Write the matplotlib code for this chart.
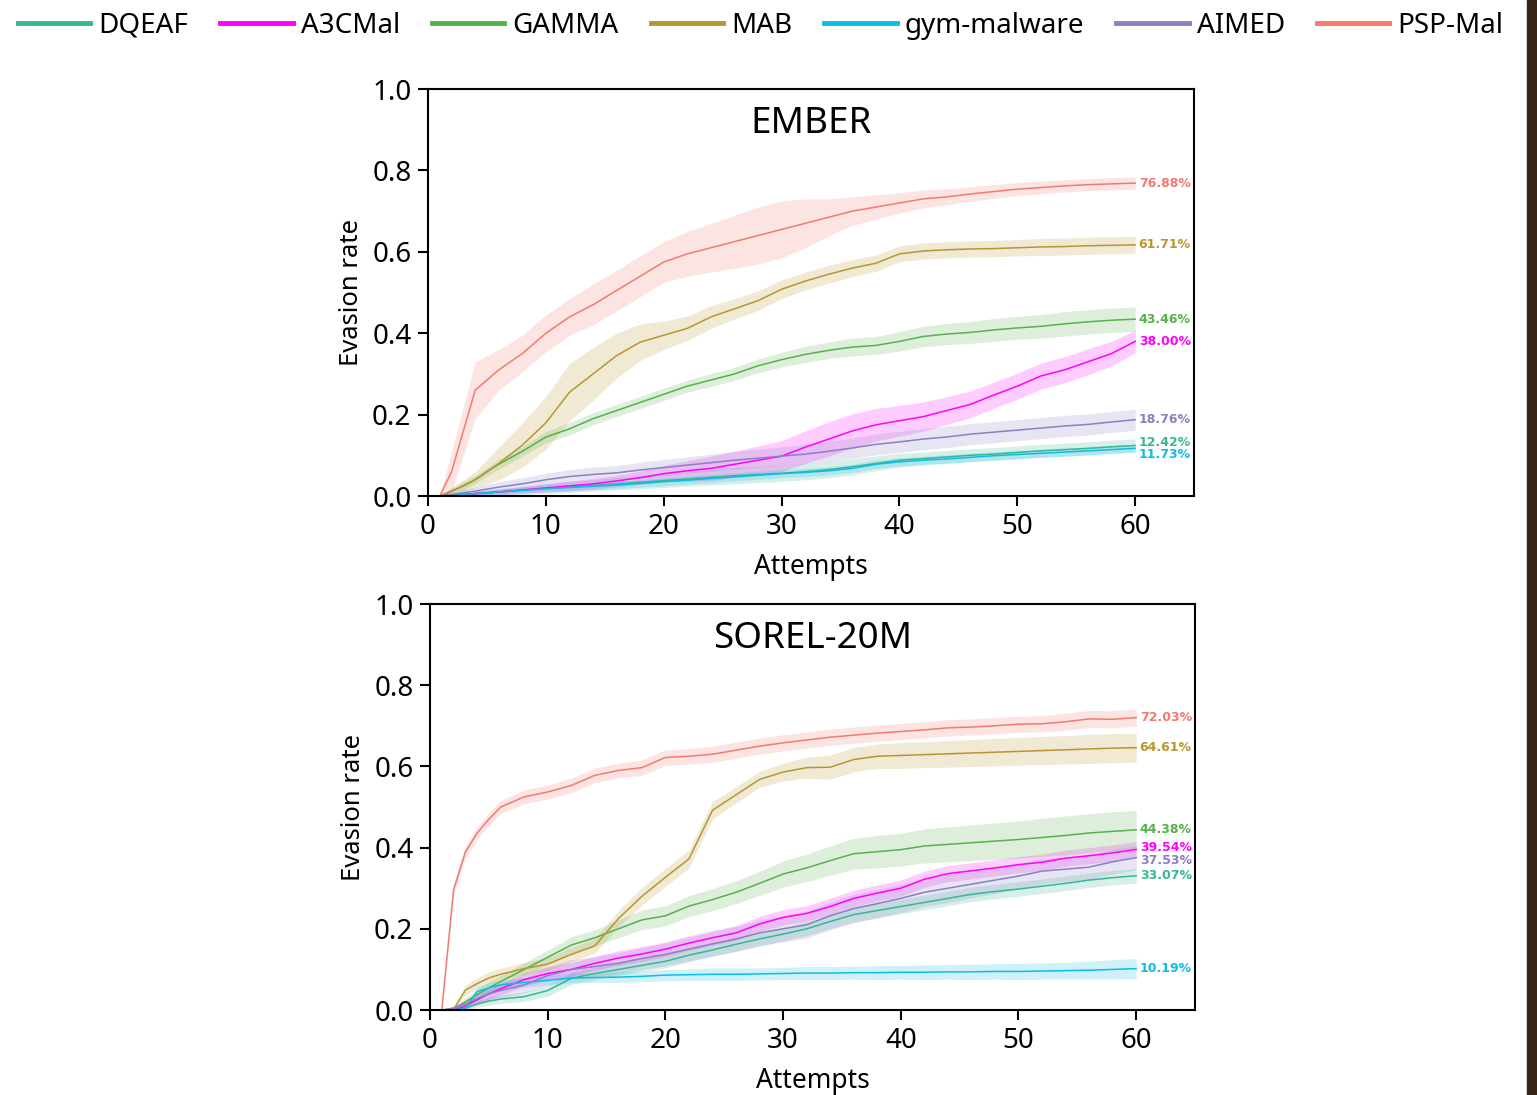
import matplotlib
matplotlib.use('Agg')
import matplotlib.pyplot as plt
from matplotlib.patches import Rectangle
from matplotlib.lines import Line2D
import numpy as np

plt.rcParams['font.family'] = ['Noto Sans', 'DejaVu Sans']

ATT = [1, 2, 3, 4, 5, 6, 8, 10, 12, 14, 16, 18, 20, 22, 24, 26, 28, 30,
       32, 34, 36, 38, 40, 42, 44, 46, 48, 50, 52, 54, 56, 58, 60]

METHODS = ['DQEAF', 'A3CMal', 'GAMMA', 'MAB', 'gym-malware', 'AIMED', 'PSP-Mal']
COLORS = ['#36b795', '#ff00ff', '#55b24a', '#b8962f', '#0dbde6', '#8a80c2', '#f47a6e']

# ---- EMBER ----
EMBER = {
  'DQEAF': [0, 0.002, 0.004, 0.006, 0.008, 0.01, 0.014, 0.018, 0.022, 0.026, 0.03, 0.034, 0.038, 0.042,
            0.046, 0.05, 0.053, 0.056, 0.06, 0.065, 0.072, 0.08, 0.088, 0.092, 0.096, 0.1, 0.103,
            0.107, 0.111, 0.114, 0.117, 0.121, 0.1242],
  'A3CMal': [0, 0.002, 0.004, 0.006, 0.008, 0.01, 0.015, 0.02, 0.025, 0.03, 0.037, 0.045, 0.055, 0.062,
             0.068, 0.078, 0.088, 0.098, 0.12, 0.14, 0.16, 0.175, 0.185, 0.195, 0.21, 0.225, 0.248,
             0.27, 0.295, 0.31, 0.33, 0.35, 0.38],
  'GAMMA': [0, 0.012, 0.025, 0.04, 0.06, 0.078, 0.11, 0.145, 0.165, 0.19, 0.21, 0.23, 0.25, 0.27,
            0.285, 0.30, 0.32, 0.335, 0.348, 0.358, 0.366, 0.37, 0.38, 0.392, 0.398, 0.402, 0.408,
            0.413, 0.417, 0.423, 0.428, 0.432, 0.4346],
  'MAB': [0, 0.012, 0.025, 0.04, 0.06, 0.08, 0.125, 0.18, 0.255, 0.30, 0.345, 0.378, 0.395, 0.412,
          0.44, 0.46, 0.48, 0.508, 0.528, 0.545, 0.56, 0.572, 0.595, 0.602, 0.605, 0.607, 0.608,
          0.61, 0.612, 0.613, 0.615, 0.616, 0.6171],
  'gym-malware': [0, 0.002, 0.004, 0.006, 0.008, 0.01, 0.014, 0.018, 0.021, 0.024, 0.027, 0.031, 0.035,
                  0.039, 0.043, 0.047, 0.051, 0.055, 0.058, 0.062, 0.068, 0.078, 0.084, 0.088, 0.091,
                  0.095, 0.099, 0.102, 0.105, 0.108, 0.111, 0.114, 0.1173],
  'AIMED': [0, 0.004, 0.008, 0.012, 0.017, 0.022, 0.03, 0.04, 0.048, 0.053, 0.057, 0.064, 0.07, 0.076,
            0.082, 0.088, 0.093, 0.098, 0.103, 0.11, 0.118, 0.127, 0.133, 0.14, 0.145, 0.152, 0.157,
            0.162, 0.167, 0.172, 0.176, 0.182, 0.1876],
  'PSP-Mal': [0, 0.06, 0.16, 0.26, 0.285, 0.31, 0.35, 0.40, 0.44, 0.47, 0.505, 0.54, 0.575, 0.595,
              0.61, 0.625, 0.64, 0.655, 0.67, 0.685, 0.70, 0.71, 0.72, 0.73, 0.735, 0.742, 0.748,
              0.754, 0.758, 0.762, 0.765, 0.767, 0.7688],
}
EMBER_SD = {
  'DQEAF': [0, 0.003, 0.005, 0.006, 0.007, 0.008, 0.01, 0.012, 0.013, 0.014, 0.015, 0.016, 0.017, 0.018,
            0.019, 0.02, 0.02, 0.02, 0.02, 0.02, 0.02, 0.018, 0.017, 0.016, 0.016, 0.016, 0.016,
            0.016, 0.016, 0.016, 0.016, 0.016, 0.016],
  'A3CMal': [0, 0.003, 0.004, 0.005, 0.006, 0.007, 0.008, 0.01, 0.012, 0.013, 0.014, 0.016, 0.02, 0.025,
             0.03, 0.032, 0.035, 0.038, 0.04, 0.042, 0.042, 0.04, 0.038, 0.036, 0.034, 0.033, 0.032,
             0.032, 0.032, 0.032, 0.032, 0.03, 0.028],
  'GAMMA': [0, 0.008, 0.01, 0.01, 0.01, 0.012, 0.012, 0.014, 0.015, 0.015, 0.015, 0.015, 0.015, 0.015,
            0.016, 0.016, 0.017, 0.018, 0.02, 0.02, 0.022, 0.022, 0.024, 0.025, 0.026, 0.027, 0.028,
            0.028, 0.029, 0.03, 0.03, 0.03, 0.03],
  'MAB': [0, 0.008, 0.015, 0.02, 0.03, 0.04, 0.055, 0.065, 0.07, 0.065, 0.055, 0.045, 0.035, 0.03,
          0.028, 0.025, 0.024, 0.023, 0.022, 0.022, 0.021, 0.02, 0.02, 0.02, 0.02, 0.02, 0.02, 0.02,
          0.021, 0.021, 0.021, 0.021, 0.021],
  'gym-malware': [0, 0.002, 0.003, 0.004, 0.005, 0.005, 0.006, 0.007, 0.008, 0.008, 0.009, 0.009, 0.01,
                  0.01, 0.01, 0.01, 0.01, 0.01, 0.01, 0.01, 0.01, 0.01, 0.01, 0.01, 0.01, 0.01, 0.01,
                  0.01, 0.01, 0.01, 0.01, 0.01, 0.01],
  'AIMED': [0, 0.005, 0.008, 0.01, 0.012, 0.013, 0.015, 0.016, 0.017, 0.018, 0.018, 0.019, 0.02, 0.02,
            0.021, 0.022, 0.022, 0.023, 0.024, 0.025, 0.025, 0.026, 0.026, 0.026, 0.026, 0.026, 0.026,
            0.026, 0.026, 0.026, 0.026, 0.026, 0.026],
  'PSP-Mal': [0, 0.05, 0.06, 0.07, 0.06, 0.05, 0.045, 0.045, 0.045, 0.05, 0.05, 0.05, 0.05, 0.055,
              0.06, 0.065, 0.07, 0.07, 0.06, 0.045, 0.035, 0.03, 0.025, 0.022, 0.02, 0.018, 0.017,
              0.016, 0.016, 0.015, 0.015, 0.015, 0.015],
}
EMBER_LAB = {'DQEAF': '12.42%', 'A3CMal': '38.00%', 'GAMMA': '43.46%', 'MAB': '61.71%',
             'gym-malware': '11.73%', 'AIMED': '18.76%', 'PSP-Mal': '76.88%'}

# ---- SOREL-20M ----
SOREL = {
  'DQEAF': [0, 0, 0.005, 0.015, 0.022, 0.027, 0.033, 0.048, 0.078, 0.09, 0.1, 0.11, 0.12, 0.135,
            0.148, 0.162, 0.175, 0.187, 0.2, 0.218, 0.235, 0.245, 0.255, 0.265, 0.275, 0.285, 0.292,
            0.298, 0.305, 0.312, 0.32, 0.326, 0.3307],
  'A3CMal': [0, 0, 0.01, 0.025, 0.04, 0.052, 0.075, 0.09, 0.1, 0.115, 0.128, 0.138, 0.15, 0.165,
             0.178, 0.19, 0.212, 0.228, 0.238, 0.255, 0.275, 0.288, 0.30, 0.322, 0.336, 0.343, 0.35,
             0.358, 0.364, 0.374, 0.38, 0.387, 0.3954],
  'GAMMA': [0, 0.003, 0.02, 0.038, 0.055, 0.07, 0.10, 0.13, 0.16, 0.178, 0.20, 0.222, 0.232, 0.256,
            0.272, 0.29, 0.312, 0.335, 0.35, 0.368, 0.385, 0.39, 0.395, 0.404, 0.408, 0.412, 0.416,
            0.42, 0.425, 0.43, 0.436, 0.44, 0.4438],
  'MAB': [0, 0.002, 0.049, 0.065, 0.079, 0.088, 0.102, 0.113, 0.137, 0.158, 0.225, 0.28, 0.327, 0.372,
          0.492, 0.53, 0.568, 0.586, 0.597, 0.598, 0.617, 0.625, 0.627, 0.629, 0.631, 0.633, 0.635,
          0.637, 0.639, 0.641, 0.643, 0.645, 0.6461],
  'gym-malware': [0, 0, 0.005, 0.045, 0.055, 0.062, 0.068, 0.073, 0.079, 0.08, 0.081, 0.083, 0.086,
                  0.087, 0.088, 0.088, 0.089, 0.09, 0.091, 0.091, 0.092, 0.092, 0.093, 0.093, 0.094,
                  0.094, 0.095, 0.095, 0.096, 0.097, 0.098, 0.10, 0.1019],
  'AIMED': [0, 0.005, 0.015, 0.028, 0.04, 0.048, 0.062, 0.085, 0.10, 0.107, 0.115, 0.127, 0.137, 0.15,
            0.163, 0.175, 0.19, 0.20, 0.21, 0.232, 0.25, 0.262, 0.275, 0.29, 0.30, 0.31, 0.32, 0.33,
            0.342, 0.347, 0.352, 0.365, 0.3753],
  'PSP-Mal': [0, 0.296, 0.389, 0.436, 0.47, 0.50, 0.525, 0.537, 0.553, 0.578, 0.59, 0.597, 0.622,
              0.625, 0.63, 0.64, 0.65, 0.658, 0.665, 0.672, 0.677, 0.682, 0.686, 0.69, 0.695, 0.697,
              0.70, 0.704, 0.705, 0.71, 0.717, 0.716, 0.7203],
}
SOREL_SD = {
  'DQEAF': [0, 0.002, 0.005, 0.008, 0.01, 0.01, 0.012, 0.014, 0.015, 0.015, 0.015, 0.015, 0.016,
            0.016, 0.016, 0.017, 0.017, 0.017, 0.017, 0.018, 0.018, 0.018, 0.018, 0.018, 0.018,
            0.018, 0.018, 0.018, 0.018, 0.018, 0.018, 0.018, 0.018],
  'A3CMal': [0, 0.002, 0.008, 0.012, 0.014, 0.015, 0.016, 0.017, 0.017, 0.017, 0.018, 0.018, 0.018,
             0.018, 0.018, 0.018, 0.019, 0.019, 0.019, 0.02, 0.02, 0.02, 0.02, 0.02, 0.02, 0.02, 0.02,
             0.02, 0.02, 0.02, 0.02, 0.02, 0.02],
  'GAMMA': [0, 0.003, 0.01, 0.012, 0.014, 0.015, 0.016, 0.018, 0.02, 0.02, 0.022, 0.024, 0.025, 0.026,
            0.027, 0.028, 0.03, 0.032, 0.034, 0.036, 0.038, 0.04, 0.04, 0.042, 0.043, 0.044, 0.045,
            0.046, 0.047, 0.048, 0.048, 0.048, 0.048],
  'MAB': [0, 0.003, 0.012, 0.014, 0.015, 0.015, 0.015, 0.016, 0.017, 0.018, 0.02, 0.022, 0.022, 0.022,
          0.022, 0.02, 0.02, 0.022, 0.026, 0.03, 0.03, 0.03, 0.032, 0.032, 0.033, 0.033, 0.034,
          0.034, 0.035, 0.035, 0.036, 0.036, 0.036],
  'gym-malware': [0, 0.002, 0.006, 0.012, 0.012, 0.012, 0.012, 0.012, 0.012, 0.012, 0.013, 0.013,
                  0.014, 0.014, 0.015, 0.015, 0.015, 0.015, 0.016, 0.016, 0.016, 0.017, 0.017, 0.018,
                  0.018, 0.019, 0.019, 0.02, 0.02, 0.021, 0.022, 0.024, 0.025],
  'AIMED': [0, 0.004, 0.01, 0.014, 0.016, 0.018, 0.02, 0.022, 0.024, 0.025, 0.026, 0.027, 0.028,
            0.029, 0.03, 0.031, 0.032, 0.032, 0.033, 0.034, 0.035, 0.035, 0.035, 0.035, 0.035,
            0.034, 0.033, 0.032, 0.031, 0.03, 0.03, 0.03, 0.03],
  'PSP-Mal': [0, 0.015, 0.015, 0.015, 0.016, 0.016, 0.017, 0.017, 0.018, 0.018, 0.018, 0.019, 0.019,
              0.019, 0.02, 0.02, 0.02, 0.02, 0.02, 0.02, 0.02, 0.02, 0.02, 0.02, 0.02, 0.02, 0.02,
              0.02, 0.02, 0.021, 0.021, 0.021, 0.021],
}
SOREL_LAB = {'DQEAF': '33.07%', 'A3CMal': '39.54%', 'GAMMA': '44.38%', 'MAB': '64.61%',
             'gym-malware': '10.19%', 'AIMED': '37.53%', 'PSP-Mal': '72.03%'}

# small vertical nudges so end labels don't collide
NUDGE_EMBER = {'DQEAF': 0.008, 'gym-malware': -0.016}
NUDGE_SOREL = {'A3CMal': 0.004, 'AIMED': -0.006}


def panel(ax, data, sd, labs, nudge, title):
  x = np.array(ATT)
  for name, c in zip(METHODS, COLORS):
    y = np.array(data[name])
    s = np.array(sd[name])
    ax.fill_between(x, np.clip(y - s, 0, None), y + s, color=c, alpha=0.2, lw=0)
    ax.plot(x, y, color=c, lw=1.1)
    ax.text(60.3, y[-1] + nudge.get(name, 0), labs[name], color=c, fontsize=9,
            family='DejaVu Sans', fontweight='bold', va='center', ha='left')
  ax.set_xlim(0, 65)
  ax.set_ylim(0, 1.0)
  ax.set_xticks([0, 10, 20, 30, 40, 50, 60])
  ax.set_yticks([0, 0.2, 0.4, 0.6, 0.8, 1.0])
  ax.tick_params(labelsize=20, length=7, width=1.5, pad=5)
  for sp in ax.spines.values():
    sp.set_linewidth(1.5)
  ax.set_xlabel('Attempts', fontsize=19, labelpad=9)
  ax.set_ylabel('Evasion rate', fontsize=18.5, labelpad=6)
  ax.text(0.5, 0.915, title, transform=ax.transAxes, ha='center', va='center', fontsize=26.5)


fig = plt.figure(figsize=(15.37, 10.95), dpi=100)
ax1 = fig.add_axes([0.2785, 0.547, 0.4984, 0.3717])
ax2 = fig.add_axes([0.2798, 0.0776, 0.4977, 0.3708])
panel(ax1, EMBER, EMBER_SD, EMBER_LAB, NUDGE_EMBER, 'EMBER')
panel(ax2, SOREL, SOREL_SD, SOREL_LAB, NUDGE_SOREL, 'SOREL-20M')

handles = [Line2D([], [], color=c, lw=3.5) for c in COLORS]
fig.legend(handles, METHODS, loc='upper center', bbox_to_anchor=(0.495, 1.012), ncol=7,
           frameon=False, fontsize=20, handlelength=2.6, handletextpad=0.3, columnspacing=1.15)
# dark strip on the right edge of the screenshot
fig.patches.append(Rectangle((0.9935, 0), 0.0065, 1, transform=fig.transFigure,
                             color='#362416', zorder=10))
fig.savefig('out.png', dpi=100)
